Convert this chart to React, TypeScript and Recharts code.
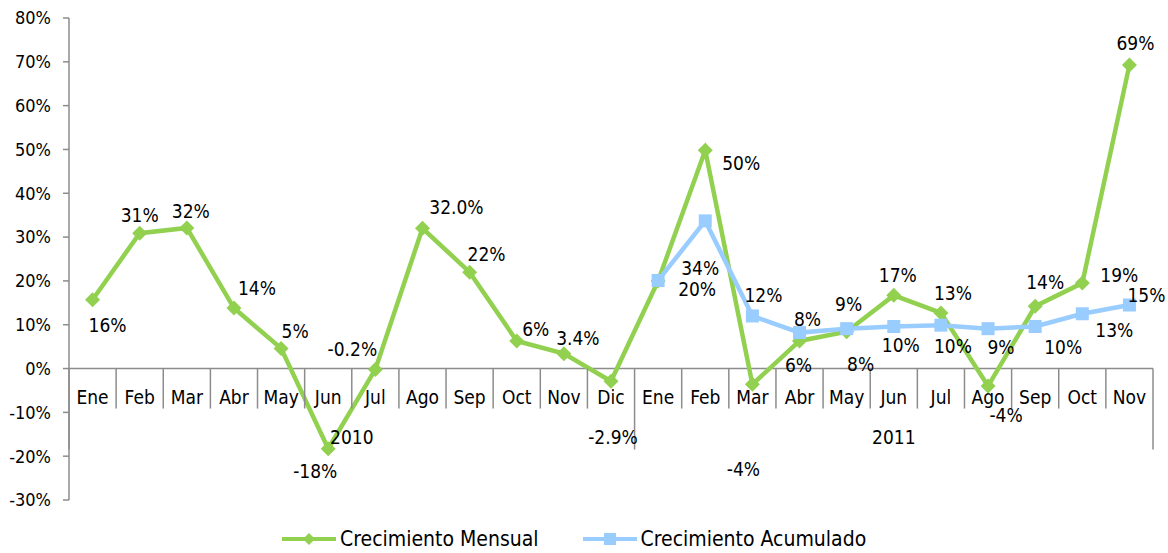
import React from "react";
import { ComposedChart, Line, XAxis, YAxis, ReferenceLine } from "recharts";

// Months of the category axis (2010: Ene-Dic, 2011: Ene-Nov)
const months = [
  "Ene", "Feb", "Mar", "Abr", "May", "Jun", "Jul", "Ago", "Sep", "Oct", "Nov", "Dic",
  "Ene", "Feb", "Mar", "Abr", "May", "Jun", "Jul", "Ago", "Sep", "Oct", "Nov",
];
const yearLabels = ["2010", "2011"];
const yearSpans = [12, 11];

// Values in %
const mensual = [
  15.7, 30.9, 32.1, 13.8, 4.6, -18.3, -0.2, 32.0, 22.0, 6.3, 3.4, -2.9,
  20.0, 49.8, -3.6, 6.3, 8.4, 16.7, 12.7, -4.0, 14.2, 19.5, 69.3,
];
const acumulado = [
  null, null, null, null, null, null, null, null, null, null, null, null,
  20.1, 33.7, 12.0, 8.2, 9.1, 9.6, 9.9, 9.1, 9.6, 12.5, 14.5,
];

const mensualLabels = [
  "16%", "31%", "32%", "14%", "5%", "-18%", "-0.2%", "32.0%", "22%", "6%", "3.4%", "-2.9%",
  "", "50%", "-4%", "6%", "8%", "17%", "13%", "-4%", "14%", "19%", "69%",
];
const acumuladoLabels = [
  "", "", "", "", "", "", "", "", "", "", "", "",
  "20%", "34%", "12%", "8%", "9%", "10%", "10%", "9%", "10%", "13%", "15%",
];

const yTicks = [-30, -20, -10, 0, 10, 20, 30, 40, 50, 60, 70, 80];

// where each data label sits relative to its marker (dx, dy)
const mensualLabelOffsets: [number, number][] = [
  [15, 25], [0, -18], [4, -17], [23, -20], [14, -17], [-13, 22], [-23, -20], [34, -21],
  [17, -18], [19, -12], [14, -16], [2, 56], [0, 0], [36, 13], [-9, 85], [-1, 24],
  [14, 32], [4, -20], [12, -20], [18, 29], [10, -24], [37, -8], [6, -22],
];
const acumuladoLabelOffsets: [number, number][] = [
  [0, 0], [0, 0], [0, 0], [0, 0], [0, 0], [0, 0], [0, 0], [0, 0], [0, 0], [0, 0], [0, 0], [0, 0],
  [39, 9], [-5, 47], [11, -21], [8, -14], [2, -25], [7, 19], [12, 21], [13, 18], [28, 21], [32, 16], [17, -10],
];

const WIDTH = 1168;
const HEIGHT = 553;
const MARGIN = { top: 18, right: 15, bottom: 53, left: 0 };
const Y_AXIS_WIDTH = 69;
const PLOT_W = WIDTH - MARGIN.left - MARGIN.right - Y_AXIS_WIDTH;
const STEP = PLOT_W / months.length;

const GREEN = "#92D050";
const BLUE = "#99CCFF";
const AXIS = "#8c8c8c";
const FONT = "'DejaVu Sans Condensed', 'DejaVu Sans', sans-serif";

const data = months.map((m, i) => ({
  key: `${m}-${i}`,
  month: m,
  mensual: mensual[i],
  acumulado: acumulado[i],
}));

const yearStarts = yearSpans.map((_, k) => yearSpans.slice(0, k).reduce((a, b) => a + b, 0));

// category axis drawn along the 0% line, Excel style (cells + year groups)
const renderAxisCell = (props: any) => {
  const { cx, cy, index } = props;
  const left = cx - STEP / 2;
  const right = cx + STEP / 2;
  const yearIdx = yearStarts.indexOf(index);
  const isLast = index === months.length - 1;
  return (
    <g key={`cell-${index}`}>
      <line x1={left} x2={left} y1={cy} y2={cy + (yearIdx >= 0 ? 81 : 40)} stroke={AXIS} strokeWidth={1.5} />
      {isLast && <line x1={right} x2={right} y1={cy} y2={cy + 81} stroke={AXIS} strokeWidth={1.5} />}
      <text x={cx} y={cy + 28} textAnchor="middle" dominantBaseline="central" fontSize={19} fontFamily={FONT} fill="#000">
        {months[index]}
      </text>
      {yearIdx >= 0 && (
        <text
          x={left + (yearSpans[yearIdx] * STEP) / 2}
          y={cy + 68}
          textAnchor="middle"
          dominantBaseline="central"
          fontSize={19}
          fontFamily={FONT}
          fill="#000"
        >
          {yearLabels[yearIdx]}
        </text>
      )}
    </g>
  );
};

const renderDiamond = (props: any) => {
  const { cx, cy, index } = props;
  if (cx == null || cy == null) return <g key={`d-${index}`} />;
  const r = 7.5;
  return (
    <polygon
      key={`d-${index}`}
      points={`${cx},${cy - r} ${cx + r},${cy} ${cx},${cy + r} ${cx - r},${cy}`}
      fill={GREEN}
    />
  );
};

const renderSquare = (props: any) => {
  const { cx, cy, index } = props;
  if (cx == null || cy == null) return <g key={`s-${index}`} />;
  const s = 13;
  return <rect key={`s-${index}`} x={cx - s / 2} y={cy - s / 2} width={s} height={s} fill={BLUE} />;
};

const makeLabel = (texts: string[], offsets: [number, number][]) => (props: any) => {
  const { x, y, index } = props;
  const t = texts[index];
  if (!t || x == null || y == null) return null;
  const [dx, dy] = offsets[index];
  return (
    <text
      key={`l-${index}`}
      x={x + dx}
      y={y + dy}
      textAnchor="middle"
      dominantBaseline="central"
      fontSize={19}
      fontFamily={FONT}
      fill="#000"
    >
      {t}
    </text>
  );
};

function LegendItem({ color, marker, label }: { color: string; marker: "diamond" | "square"; label: string }) {
  return (
    <div style={{ display: "flex", alignItems: "center" }}>
      <svg width={56} height={16} style={{ marginRight: 3 }}>
        <line x1={1} x2={55} y1={8} y2={8} stroke={color} strokeWidth={4} />
        {marker === "diamond" ? (
          <polygon points="28,2 34,8 28,14 22,8" fill={color} />
        ) : (
          <rect x={22} y={2} width={12} height={12} fill={color} />
        )}
      </svg>
      <span style={{ fontSize: 21, fontFamily: FONT, color: "#000", whiteSpace: "nowrap" }}>{label}</span>
    </div>
  );
}

export default function App() {
  return (
    <div style={{ position: "absolute", left: 0, top: 0, width: WIDTH, height: HEIGHT, background: "#fff", fontFamily: FONT }}>
      <ComposedChart width={WIDTH} height={HEIGHT} data={data} margin={MARGIN}>
        <XAxis dataKey="key" hide padding={{ left: STEP / 2, right: STEP / 2 }} />
        <YAxis
          domain={[-30, 80]}
          ticks={yTicks}
          interval={0}
          width={Y_AXIS_WIDTH}
          tickFormatter={(v: number) => `${v}%`}
          tick={{ fontSize: 18, fill: "#000", fontFamily: FONT }}
          tickMargin={12}
          tickSize={6}
          axisLine={{ stroke: AXIS, strokeWidth: 1.5 }}
          tickLine={{ stroke: AXIS, strokeWidth: 1.5 }}
        />
        <ReferenceLine y={0} stroke={AXIS} strokeWidth={1.5} />
        <Line
          dataKey={() => 0}
          stroke="none"
          dot={renderAxisCell}
          activeDot={false}
          legendType="none"
          isAnimationActive={false}
        />
        <Line
          dataKey="mensual"
          stroke={GREEN}
          strokeWidth={4.5}
          dot={renderDiamond}
          activeDot={false}
          label={makeLabel(mensualLabels, mensualLabelOffsets)}
          isAnimationActive={false}
        />
        <Line
          dataKey="acumulado"
          stroke={BLUE}
          strokeWidth={4.5}
          dot={renderSquare}
          activeDot={false}
          connectNulls={false}
          label={makeLabel(acumuladoLabels, acumuladoLabelOffsets)}
          isAnimationActive={false}
        />
      </ComposedChart>
      <div style={{ position: "absolute", left: 281, top: 527, display: "flex", gap: 43 }}>
        <LegendItem color={GREEN} marker="diamond" label="Crecimiento Mensual" />
        <LegendItem color={BLUE} marker="square" label="Crecimiento Acumulado" />
      </div>
    </div>
  );
}
